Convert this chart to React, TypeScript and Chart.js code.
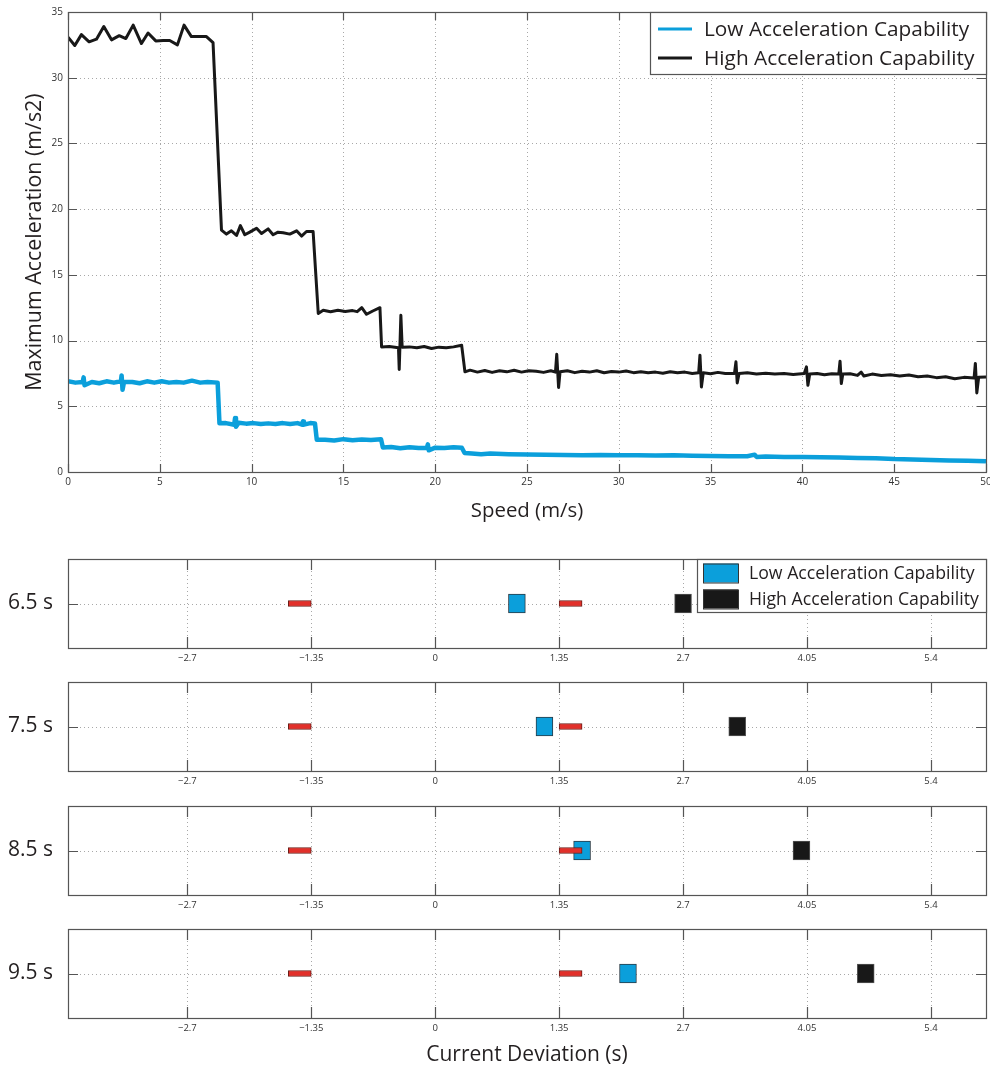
import React, { useEffect, useRef } from 'react';
import { Chart, registerables } from 'chart.js';

Chart.register(...registerables);

const FONT = '"Open Sans", "DejaVu Sans", sans-serif';

// ---------- Top chart data ----------
const speedTitle = 'Speed (m/s)';
const accelTitle = 'Maximum Acceleration (m/s2)';
const seriesLabels = ['Low Acceleration Capability', 'High Acceleration Capability'];

const lowX = [0, 0.4, 0.8, 0.85, 0.9, 1.3, 1.7, 2.1, 2.5, 2.88, 2.92, 2.97, 3.05, 3.5, 3.9, 4.3, 4.7, 5.1, 5.5, 5.9, 6.3, 6.75, 7.2, 7.6, 8.15,
  8.25, 8.6, 9.05, 9.1, 9.15, 9.3, 9.7, 10.1, 10.5, 10.9, 11.3, 11.7, 12.1, 12.5, 12.75, 12.8, 12.85, 13.2, 13.45,
  13.55, 14.0, 14.5, 15.0, 15.5, 16.0, 16.5, 17.05,
  17.15, 17.6, 18.1, 18.6, 19.1, 19.55, 19.6, 19.65, 20.0, 20.5, 21.0, 21.45,
  21.6, 22.0, 22.5, 23.0, 24, 25, 26, 27, 28, 29, 30, 31, 32, 33, 34, 35, 36, 37, 37.4, 37.5, 38, 39, 40, 41, 42, 43, 44, 45, 46, 47, 48, 49, 50];
const lowY = [6.9, 6.8, 6.85, 7.2, 6.6, 6.85, 6.75, 6.9, 6.8, 6.9, 7.35, 6.25, 6.85, 6.85, 6.75, 6.9, 6.8, 6.9, 6.8, 6.85, 6.8, 6.95, 6.8, 6.85, 6.8,
  3.7, 3.72, 3.6, 4.1, 3.45, 3.75, 3.68, 3.72, 3.65, 3.7, 3.66, 3.72, 3.65, 3.72, 3.6, 3.85, 3.6, 3.72, 3.7,
  2.45, 2.45, 2.4, 2.5, 2.42, 2.48, 2.44, 2.5,
  1.86, 1.9, 1.8, 1.88, 1.82, 1.85, 2.1, 1.65, 1.85, 1.82, 1.88, 1.85,
  1.45, 1.4, 1.35, 1.4, 1.35, 1.33, 1.32, 1.3, 1.28, 1.3, 1.27, 1.27, 1.25, 1.27, 1.24, 1.22, 1.2, 1.2, 1.32, 1.15, 1.18, 1.15, 1.14, 1.12, 1.1, 1.07, 1.05, 0.98, 0.96, 0.92, 0.88, 0.85, 0.82];

const highX = [0, 0.37, 0.73, 1.15, 1.55, 1.95, 2.37, 2.79, 3.15, 3.55, 4.0, 4.36, 4.78, 5.18, 5.54, 5.96, 6.32, 6.72, 7.14, 7.54, 7.9,
  8.36, 8.63, 8.9, 9.18, 9.39, 9.63, 9.9, 10.27, 10.54, 10.9, 11.17, 11.44, 11.72, 12.08, 12.45, 12.72, 12.99, 13.35,
  13.63, 13.9, 14.3, 14.7, 15.1, 15.5, 15.75, 16.0, 16.26, 16.6, 16.99,
  17.08, 17.5, 18.0, 18.04, 18.13, 18.2, 18.6, 19.0, 19.4, 19.8, 20.2, 20.6, 21.0, 21.44,
  21.62, 21.9, 22.3, 22.7, 23.1, 23.5, 23.9, 24.3, 24.7, 25.1, 25.5, 25.9, 26.3, 26.55, 26.62, 26.72, 26.8, 27.2, 27.6, 28.0, 28.4, 28.8,
  29.2, 29.6, 30.0, 30.4, 30.8, 31.2, 31.6, 32.0, 32.4, 32.8, 33.2, 33.6, 34.0, 34.35, 34.42, 34.5, 34.6, 35.0, 35.4, 35.8, 36.3, 36.38,
  36.45, 36.55, 37.0, 37.5, 38.0, 38.5, 39.0, 39.5, 40.1, 40.22, 40.3, 40.4, 40.8, 41.2, 41.6, 41.98, 42.05, 42.12, 42.2, 42.6, 43.0,
  43.2, 43.35, 43.8, 44.3, 44.8, 45.3, 45.8, 46.3, 46.8, 47.3, 47.8, 48.3, 48.8, 49.35, 49.42, 49.5, 49.6, 50.0];
const highY = [33.08, 32.45, 33.28, 32.73, 32.93, 33.9, 32.88, 33.2, 32.98, 34.0, 32.6, 33.4, 32.8, 32.83, 32.83, 32.5, 34.0, 33.13, 33.13, 33.13, 32.67,
  18.4, 18.1, 18.35, 18.0, 18.75, 18.05, 18.25, 18.55, 18.15, 18.5, 18.05, 18.25, 18.2, 18.1, 18.35, 17.95, 18.3, 18.3,
  12.06, 12.3, 12.2, 12.3, 12.22, 12.28, 12.2, 12.5, 12.0, 12.25, 12.5,
  9.52, 9.55, 9.45, 7.8, 11.93, 9.5, 9.52, 9.45, 9.55, 9.4, 9.5, 9.45, 9.52, 9.65,
  7.62, 7.75, 7.6, 7.72, 7.58, 7.7, 7.62, 7.74, 7.6, 7.7, 7.66, 7.58, 7.7, 7.6, 8.96, 6.43, 7.62, 7.7, 7.56, 7.66, 7.6, 7.7,
  7.55, 7.64, 7.6, 7.68, 7.56, 7.62, 7.55, 7.6, 7.52, 7.62, 7.55, 7.6, 7.5, 7.55, 8.89, 6.47, 7.55, 7.48, 7.58, 7.5, 7.5, 8.38,
  6.78, 7.5, 7.55, 7.45, 7.52, 7.45, 7.5, 7.42, 7.5, 8.0, 6.6, 7.45, 7.5, 7.4, 7.48, 7.45, 8.43, 6.73, 7.45, 7.48, 7.35,
  7.6, 7.3, 7.45, 7.35, 7.4, 7.3, 7.38, 7.25, 7.3, 7.18, 7.25, 7.1, 7.2, 7.15, 8.26, 6.02, 7.2, 7.22];

// ---------- Bottom panels data ----------
const deviationTitle = 'Current Deviation (s)';
const panelLabels = ['6.5 s', '7.5 s', '8.5 s', '9.5 s'];
const lowDeviation = [0.89, 1.19, 1.6, 2.1];
const highDeviation = [2.7, 3.29, 3.99, 4.69];
const thresholdLeft = [-1.6, -1.35];
const thresholdRight = [1.35, 1.6];
const deviationTicks = [-2.7, -1.35, 0, 1.35, 2.7, 4.05, 5.4];
const deviationTickLabels = ['\u22122.7', '\u22121.35', '0', '1.35', '2.7', '4.05', '5.4'];

// ---------- Styles ----------
const BLUE = '#0b9fdb';
const BLACK = '#181818';
const RED = '#e2302a';
const AXIS = '#555555';
const GRID = '#a8a8a8';
const TEXT = '#231f20';
const SQUARE_HALF = 0.092;
const PANEL_TOPS = [559, 682, 806, 929];
const PANEL_H = 89;

const framePlugin = {
  id: 'frame',
  beforeDatasetsDraw(chart: any) {
    const { ctx, chartArea: a } = chart;
    const xs = chart.scales.x;
    const ys = chart.scales.y;
    ctx.save();
    ctx.strokeStyle = GRID;
    ctx.lineWidth = 1;
    ctx.setLineDash([1, 3]);
    xs.ticks.forEach((_t: any, i: number) => {
      const p = Math.round(xs.getPixelForTick(i)) + 0.5;
      if (p <= a.left + 1 || p >= a.right - 1) return;
      ctx.beginPath(); ctx.moveTo(p, a.top); ctx.lineTo(p, a.bottom); ctx.stroke();
    });
    ys.ticks.forEach((_t: any, i: number) => {
      const p = Math.round(ys.getPixelForTick(i)) + 0.5;
      if (p <= a.top + 1 || p >= a.bottom - 1) return;
      ctx.beginPath(); ctx.moveTo(a.left, p); ctx.lineTo(a.right, p); ctx.stroke();
    });
    ctx.restore();
  },
  afterDatasetsDraw(chart: any, _a: any, o: any) {
    const { ctx, chartArea: a } = chart;
    const xs = chart.scales.x;
    const ys = chart.scales.y;
    const xl = (o && o.xTick) || 8;
    const yl = (o && o.yTick) || 8;
    ctx.save();
    ctx.strokeStyle = AXIS;
    ctx.lineWidth = 1.2;
    ctx.setLineDash([]);
    xs.ticks.forEach((_t: any, i: number) => {
      const p = Math.round(xs.getPixelForTick(i)) + 0.5;
      ctx.beginPath();
      ctx.moveTo(p, a.bottom); ctx.lineTo(p, a.bottom - xl);
      ctx.moveTo(p, a.top); ctx.lineTo(p, a.top + xl);
      ctx.stroke();
    });
    ys.ticks.forEach((_t: any, i: number) => {
      const p = Math.round(ys.getPixelForTick(i)) + 0.5;
      ctx.beginPath();
      ctx.moveTo(a.left, p); ctx.lineTo(a.left + yl, p);
      ctx.moveTo(a.right, p); ctx.lineTo(a.right - yl, p);
      ctx.stroke();
    });
    ctx.strokeRect(Math.round(a.left) + 0.5, Math.round(a.top) + 0.5, Math.round(a.right - a.left), Math.round(a.bottom - a.top));
    ctx.restore();
  },
};

const legendPlugin = {
  id: 'boxLegend',
  afterDraw(chart: any, _a: any, o: any) {
    if (!o || !o.items) return;
    const { ctx, chartArea: a } = chart;
    const left = a.right - o.width;
    const top = a.top;
    ctx.save();
    ctx.fillStyle = '#ffffff';
    ctx.fillRect(left, top, o.width, o.height);
    ctx.strokeStyle = AXIS;
    ctx.lineWidth = 1.2;
    ctx.strokeRect(Math.round(left) + 0.5, Math.round(top) + 0.5, Math.round(o.width), Math.round(o.height));
    ctx.font = `${o.fontSize}px ${FONT}`;
    ctx.textBaseline = 'middle';
    o.items.forEach((it: any, i: number) => {
      const cy = top + o.rowY[i];
      if (o.kind === 'line') {
        ctx.strokeStyle = it.color;
        ctx.lineWidth = 3;
        ctx.beginPath();
        ctx.moveTo(left + o.sampleX, cy); ctx.lineTo(left + o.sampleX + o.sampleW, cy);
        ctx.stroke();
      } else {
        ctx.fillStyle = it.color;
        ctx.fillRect(left + o.sampleX, cy - o.sampleH / 2, o.sampleW, o.sampleH);
        ctx.strokeStyle = '#333333';
        ctx.lineWidth = 1;
        ctx.strokeRect(left + o.sampleX + 0.5, cy - o.sampleH / 2 + 0.5, o.sampleW, o.sampleH);
      }
      ctx.fillStyle = TEXT;
      ctx.fillText(it.label, left + o.textX, cy + 1);
    });
    ctx.restore();
  },
};

const fitY = (w: number) => (s: any) => { s.width = w; s.paddingTop = 0; s.paddingBottom = 0; };
const fitX = (h: number) => (s: any) => { s.height = h; s.paddingLeft = 0; s.paddingRight = 0; };

function TopChart() {
  const ref = useRef<HTMLCanvasElement>(null);
  useEffect(() => {
    const chart = new Chart(ref.current as HTMLCanvasElement, {
      type: 'line',
      data: {
        datasets: [
          {
            label: seriesLabels[1],
            data: highX.map((x, i) => ({ x, y: highY[i] })),
            borderColor: BLACK,
            borderWidth: 3,
            pointRadius: 0,
            tension: 0,
            borderJoinStyle: 'round',
          },
          {
            label: seriesLabels[0],
            data: lowX.map((x, i) => ({ x, y: lowY[i] })),
            borderColor: BLUE,
            borderWidth: 4.5,
            pointRadius: 0,
            tension: 0,
            borderJoinStyle: 'round',
          },
        ],
      },
      options: {
        animation: false,
        responsive: false,
        layout: { padding: { top: 12, right: 4, left: 0, bottom: 0 } },
        plugins: {
          legend: { display: false },
          tooltip: { enabled: false },
          frame: { xTick: 8, yTick: 9 },
          boxLegend: {
            kind: 'line',
            width: 336,
            height: 62,
            rowY: [17, 46],
            sampleX: 8,
            sampleW: 34,
            textX: 54,
            fontSize: 20.8,
            items: [
              { label: seriesLabels[0], color: BLUE },
              { label: seriesLabels[1], color: BLACK },
            ],
          },
        } as any,
        scales: {
          x: {
            type: 'linear',
            min: 0,
            max: 50,
            ticks: { stepSize: 5, font: { family: FONT, size: 10 }, color: '#333', padding: 4, maxRotation: 0 },
            grid: { display: false, drawTicks: false },
            border: { display: false },
            title: { display: true, text: speedTitle, font: { family: FONT, size: 20.4 }, color: TEXT, padding: { top: 0, bottom: 7 } },
            afterFit: fitX(58),
          },
          y: {
            type: 'linear',
            min: 0,
            max: 35,
            ticks: { stepSize: 5, font: { family: FONT, size: 10 }, color: '#333', padding: 5 },
            grid: { display: false, drawTicks: false },
            border: { display: false },
            title: { display: true, text: accelTitle, font: { family: FONT, size: 21.4 }, color: TEXT, padding: { top: 22, bottom: 0 } },
            afterFit: fitY(68),
          },
        },
      },
      plugins: [framePlugin, legendPlugin],
    } as any);
    return () => chart.destroy();
  }, []);
  return <canvas ref={ref} width={990} height={530} style={{ position: 'absolute', left: 0, top: 0, width: 990, height: 530 }} />;
}

function Panel({ index }: { index: number }) {
  const ref = useRef<HTMLCanvasElement>(null);
  const last = index === panelLabels.length - 1;
  const padTop = 6;
  const xH = last ? 54 : 26;
  const h = padTop + PANEL_H + xH;
  useEffect(() => {
    const legend = index === 0 ? {
      kind: 'patch',
      width: 289,
      height: 53,
      rowY: [14, 40],
      sampleX: 6,
      sampleW: 35,
      sampleH: 19,
      textX: 52,
      fontSize: 17.7,
      items: [
        { label: seriesLabels[0], color: BLUE },
        { label: seriesLabels[1], color: BLACK },
      ],
    } : {};
    const chart = new Chart(ref.current as HTMLCanvasElement, {
      type: 'bar',
      data: {
        labels: [panelLabels[index]],
        datasets: [
          { data: [thresholdLeft], backgroundColor: RED, borderColor: '#6a1d18', borderWidth: 1, borderSkipped: false, barThickness: 6, grouped: false },
          { data: [thresholdRight], backgroundColor: RED, borderColor: '#6a1d18', borderWidth: 1, borderSkipped: false, barThickness: 6, grouped: false },
          { data: [[lowDeviation[index] - SQUARE_HALF, lowDeviation[index] + SQUARE_HALF]], backgroundColor: BLUE, borderColor: '#2b3a44', borderWidth: 1, borderSkipped: false, barThickness: 19, grouped: false },
          { data: [[highDeviation[index] - SQUARE_HALF, highDeviation[index] + SQUARE_HALF]], backgroundColor: BLACK, borderColor: '#555', borderWidth: 1, borderSkipped: false, barThickness: 19, grouped: false },
        ],
      },
      options: {
        indexAxis: 'y',
        animation: false,
        responsive: false,
        layout: { padding: { top: padTop, right: 4, left: 0, bottom: 0 } },
        plugins: {
          legend: { display: false },
          tooltip: { enabled: false },
          frame: { xTick: 11, yTick: 10 },
          boxLegend: legend,
        } as any,
        scales: {
          x: {
            type: 'linear',
            min: -4,
            max: 6,
            afterBuildTicks: (s: any) => { s.ticks = deviationTicks.map((v) => ({ value: v })); },
            ticks: {
              font: { family: FONT, size: 9.5 },
              color: '#333',
              padding: 5,
              maxRotation: 0,
              autoSkip: false,
              callback: (v: any) => {
                const k = deviationTicks.findIndex((t) => Math.abs(t - v) < 1e-6);
                return k >= 0 ? deviationTickLabels[k] : '';
              },
            },
            grid: { display: false, drawTicks: false },
            border: { display: false },
            title: last
              ? { display: true, text: deviationTitle, font: { family: FONT, size: 21 }, color: TEXT, padding: { top: 0, bottom: 4 } }
              : { display: false },
            afterFit: fitX(xH),
          },
          y: {
            type: 'category',
            ticks: { font: { family: FONT, size: 21 }, color: TEXT, padding: 15 },
            grid: { display: false, drawTicks: false },
            border: { display: false },
            afterFit: fitY(68),
          },
        },
      },
      plugins: [framePlugin, legendPlugin],
    } as any);
    return () => chart.destroy();
  }, [index]);
  return (
    <canvas
      ref={ref}
      width={990}
      height={h}
      style={{ position: 'absolute', left: 0, top: PANEL_TOPS[index] - padTop, width: 990, height: h }}
    />
  );
}

export default function App() {
  return (
    <div style={{ position: 'absolute', left: 0, top: 0, width: 990, height: 1072, background: '#ffffff', overflow: 'hidden' }}>
      <TopChart />
      {panelLabels.map((_, i) => (
        <Panel key={i} index={i} />
      ))}
    </div>
  );
}
